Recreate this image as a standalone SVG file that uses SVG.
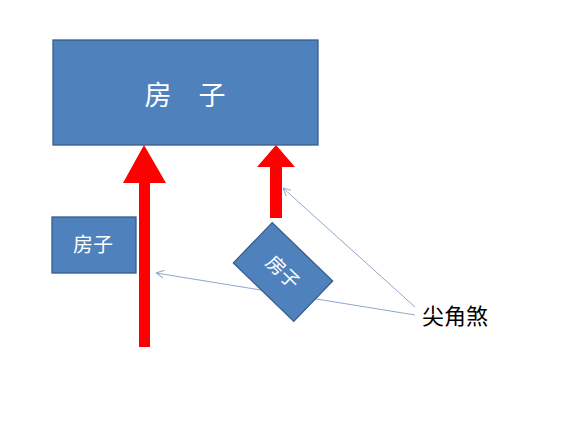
<svg xmlns="http://www.w3.org/2000/svg" width="574" height="439" viewBox="0 0 574 439">
<defs>
<style>
.box{fill:#4f81bd;stroke:#385d8a;stroke-width:1.3}
.wt{fill:#fff;font-family:"Noto Sans CJK SC","Noto Sans CJK JP",sans-serif;text-anchor:middle}
.red{fill:#ff0000}
.ln{stroke:#8ea8cc;stroke-width:1;fill:none;marker-end:url(#ah)}
</style>
<marker id="ah" viewBox="0 0 10 10" refX="10" refY="5" markerWidth="8" markerHeight="8" orient="auto" markerUnits="userSpaceOnUse">
<path d="M0,0 L10,5 L0,10" fill="none" stroke="#8ea8cc" stroke-width="1.2"/>
</marker>
</defs>
<rect width="574" height="439" fill="#fff"/>
<g id="house-main">
<rect class="box" x="53" y="40" width="265" height="105"/>
<text class="wt" x="185" y="105" font-size="27">房　子</text>
</g>
<g id="house-small">
<rect class="box" x="52" y="217" width="84" height="56"/>
<text class="wt" x="93" y="252" font-size="20">房子</text>
</g>
<g id="red-arrows">
<path class="red" d="M139,347 L139,183 L123,183 L144,145 L166,183 L150,183 L150,347 Z"/>
<path class="red" d="M270,218 L270,167 L257,167 L276,145 L295,167 L282,167 L282,218 Z"/>
</g>
<g id="connectors">
<line class="ln" x1="415" y1="307" x2="283" y2="188"/>
<line class="ln" x1="415" y1="315" x2="156" y2="273"/>
</g>
<g id="house-rotated" transform="translate(283,272) rotate(44)">
<rect class="box" x="-42" y="-28" width="84" height="56"/>
<text class="wt" x="0" y="7" font-size="19">房子</text>
</g>
<g id="label">
<text x="422" y="324" font-size="22" font-family="'Noto Sans CJK SC','Noto Sans CJK JP',sans-serif" fill="#000">尖角煞</text>
</g>
</svg>
